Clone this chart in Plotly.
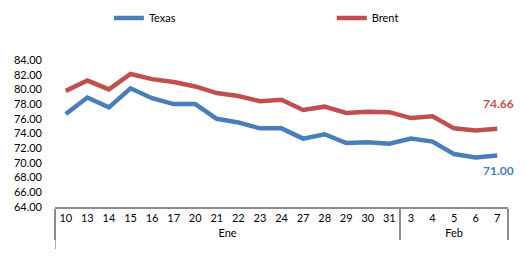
import plotly.graph_objects as go

months = ["Ene"] * 16 + ["Feb"] * 5
days = ["10", "13", "14", "15", "16", "17", "20", "21", "22", "23", "24", "27", "28", "29", "30", "31",
        "3", "4", "5", "6", "7"]
texas = [76.65, 78.9, 77.55, 80.15, 78.8, 78.0, 78.0, 76.0, 75.5, 74.7, 74.7, 73.3, 73.9, 72.7, 72.8, 72.6,
         73.3, 72.9, 71.2, 70.75, 71.00]
brent = [79.8, 81.2, 80.0, 82.1, 81.4, 81.0, 80.4, 79.5, 79.1, 78.4, 78.6, 77.2, 77.65, 76.8, 76.95, 76.9,
         76.1, 76.35, 74.7, 74.4, 74.66]
yticks = [64 + 2 * i for i in range(11)]

BLUE = "#4A7EBB"
RED = "#C0504D"
FONT = "Lato"
AXC = "#8c8c8c"

fig = go.Figure()
fig.add_trace(go.Scatter(x=[months, days], y=texas, mode="lines", name="Texas",
                         line=dict(color=BLUE, width=4.5), legend="legend"))
fig.add_trace(go.Scatter(x=[months, days], y=brent, mode="lines", name="Brent",
                         line=dict(color=RED, width=4.5), legend="legend2"))

n = len(days) - 1
fig.add_annotation(x=n, y=brent[-1], text="<b>%.2f</b>" % brent[-1], showarrow=False,
                   xref="x", yref="y", xanchor="right", xshift=19, yshift=25,
                   font=dict(color=RED, size=12, family=FONT))
fig.add_annotation(x=n, y=texas[-1], text="<b>%.2f</b>" % texas[-1], showarrow=False,
                   xref="x", yref="y", xanchor="right", xshift=19, yshift=-15,
                   font=dict(color=BLUE, size=12, family=FONT))

# left border of the category box
fig.add_shape(type="line", xref="x", yref="paper", x0=-0.5, x1=-0.5, y0=0, y1=-0.36,
              line=dict(color=AXC, width=1.5))

leg_common = dict(orientation="h", yanchor="middle", y=1.286, xanchor="left",
                  font=dict(size=11, family=FONT), bgcolor="rgba(0,0,0,0)")
fig.update_layout(
    width=510, height=241,
    margin=dict(l=47, r=10, t=52, b=42, autoexpand=False),
    paper_bgcolor="white", plot_bgcolor="white",
    font=dict(family=FONT, size=11, color="#000000"),
    showlegend=True,
    legend=dict(x=0.119, **leg_common),
    legend2=dict(x=0.611, **leg_common),
    xaxis=dict(type="multicategory", range=[-0.5, n + 0.5], showgrid=False, showline=True,
               linecolor=AXC, linewidth=1.5,
               showdividers=True, dividercolor=AXC, dividerwidth=1.5,
               ticks="outside", ticklen=6, tickcolor="rgba(0,0,0,0)", tickangle=0,
               tickfont=dict(size=11, family=FONT)),
    yaxis=dict(range=[64, 84], tickvals=yticks, ticktext=["%.2f" % v for v in yticks],
               showgrid=False, showline=False, zeroline=False, ticks="", ticklabelstandoff=12,
               tickfont=dict(size=11, family=FONT)),
)

fig.write_html("out.html")
